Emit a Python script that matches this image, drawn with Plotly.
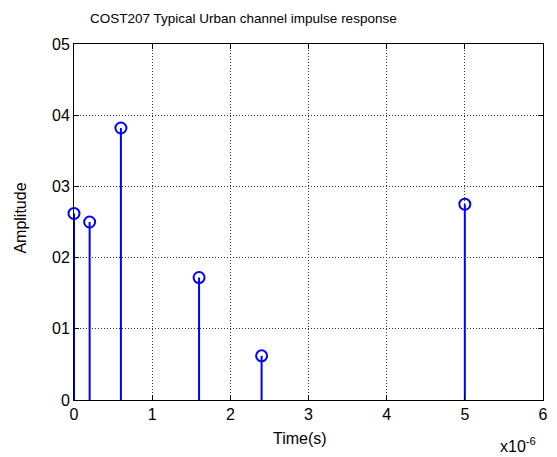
import plotly.graph_objects as go

# data
delays_us = [0.0, 0.2, 0.6, 1.6, 2.4, 5.0]
amplitudes = [0.262, 0.250, 0.382, 0.172, 0.062, 0.275]
x_tick_vals = [0, 1, 2, 3, 4, 5, 6]
x_tick_text = ["0", "1", "2", "3", "4", "5", "6"]
y_tick_vals = [0, 0.1, 0.2, 0.3, 0.4, 0.5]
y_tick_text = ["0", "01", "02", "03", "04", "05"]

t = [d * 1e-6 for d in delays_us]

stem_x, stem_y = [], []
for xi, yi in zip(t, amplitudes):
    stem_x += [xi, xi, None]
    stem_y += [0, yi, None]

blue = "#0000ff"
fig = go.Figure()
fig.add_trace(go.Scatter(x=stem_x, y=stem_y, mode="lines",
                         line=dict(color=blue, width=2), hoverinfo="skip",
                         cliponaxis=False, showlegend=False))
fig.add_trace(go.Scatter(x=t, y=amplitudes, mode="markers",
                         marker=dict(symbol="circle-open", size=11,
                                     color=blue, line=dict(color=blue, width=2)),
                         cliponaxis=False, showlegend=False))

font_main = "Liberation Sans, Arial"
tickfont = dict(family=font_main, size=16, color="black")

axis_common = dict(showline=True, linecolor="black", linewidth=1, mirror="allticks",
                   ticks="inside", ticklen=5, tickcolor="black",
                   showgrid=True, gridcolor="#333333", griddash="1px,2px", gridwidth=1,
                   zeroline=False, tickfont=tickfont)

fig.update_xaxes(range=[0, 6e-6], tickvals=[v * 1e-6 for v in x_tick_vals],
                 ticktext=x_tick_text, **axis_common)
fig.update_yaxes(range=[0, 0.5], tickvals=y_tick_vals, ticktext=y_tick_text,
                 **axis_common)

fig.update_layout(
    width=557, height=457,
    margin=dict(l=74, r=9, t=44, b=57),
    paper_bgcolor="white", plot_bgcolor="white",
    annotations=[
        dict(text="COST207 Typical Urban channel impulse response", xref="paper", yref="paper",
             x=0.0295, y=1.073, xanchor="left", yanchor="middle", showarrow=False,
             font=dict(family=font_main, size=13.5, color="black")),
        dict(text="Time(s)", xref="paper", yref="paper",
             x=0.42, y=-0.107, xanchor="left", yanchor="middle", showarrow=False,
             font=dict(family=font_main, size=16, color="black")),
        dict(text="Amplitude", xref="paper", yref="paper", textangle=-90,
             x=-0.114, y=0.511, xanchor="center", yanchor="middle", showarrow=False,
             font=dict(family=font_main, size=16, color="black")),
        dict(text="x10<sup>-6</sup>", xref="paper", yref="paper",
             x=0.903, y=-0.126, xanchor="left", yanchor="middle", showarrow=False,
             font=dict(family=font_main, size=16, color="black")),
    ],
)

fig.write_html("out.html", config={"displayModeBar": False},
               post_script="document.body.style.margin='0';")
